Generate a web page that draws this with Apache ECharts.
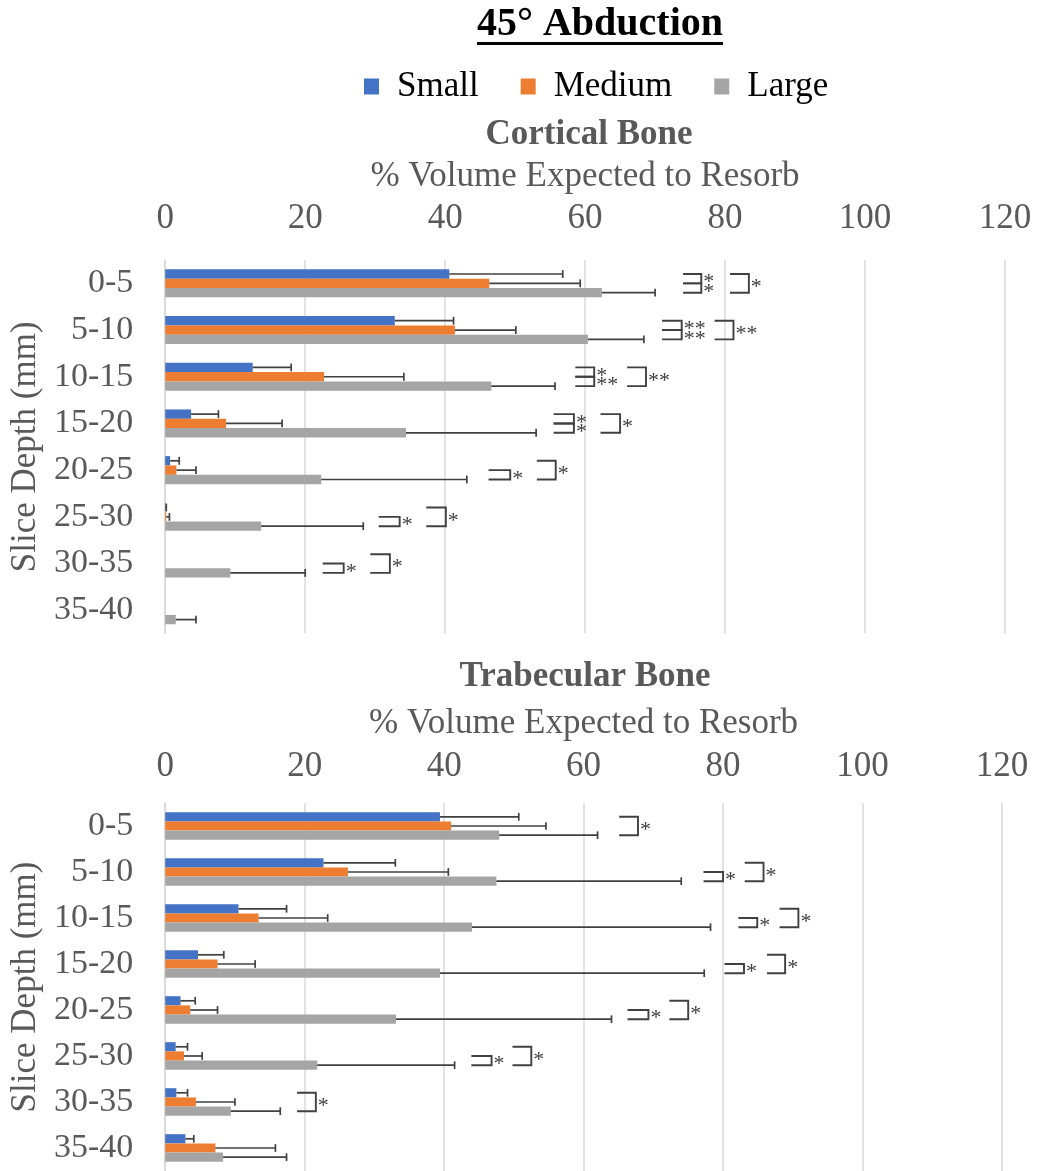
<!DOCTYPE html>
<html><head><meta charset="utf-8">
<script src="https://cdn.jsdelivr.net/npm/echarts@6/dist/echarts.min.js"></script>
<style>html,body{margin:0;padding:0;background:#fff}#c{width:1037px;height:1171px}</style>
</head><body><div id="c"></div><script>
const categories = ['0-5','5-10','10-15','15-20','20-25','25-30','30-35','35-40'];
const seriesNames = ['Small','Medium','Large'];
const xTicks = [0,20,40,60,80,100,120];

const corticalSmall  = [40.6, 32.8, 12.5, 3.7, 0.7, 0.05, 0, 0];
const corticalMedium = [46.3, 41.4, 22.7, 8.7, 1.6, 0.15, 0, 0];
const corticalLarge  = [62.4, 60.4, 46.6, 34.4, 22.3, 13.7, 9.3, 1.5];
const corticalSmallSD  = [16.2, 8.4, 5.5, 3.9, 1.3, 0.1, null, null];
const corticalMediumSD = [13.0, 8.7, 11.4, 8.0, 2.8, 0.45, null, null];
const corticalLargeSD  = [7.6, 8.0, 9.1, 18.6, 20.8, 14.6, 10.7, 2.9];

const trabecularSmall  = [39.4, 22.7, 10.5, 4.7, 2.2, 1.5, 1.6, 2.9];
const trabecularMedium = [41.0, 26.2, 13.4, 7.5, 3.6, 2.7, 4.4, 7.2];
const trabecularLarge  = [47.9, 47.5, 44.0, 39.4, 33.1, 21.8, 9.4, 8.3];
const trabecularSmallSD  = [11.3, 10.3, 6.9, 3.7, 2.1, 1.7, 1.6, 1.2];
const trabecularMediumSD = [13.6, 14.4, 9.9, 5.4, 3.9, 2.6, 5.6, 8.6];
const trabecularLargeSD  = [14.1, 26.5, 34.2, 37.9, 30.9, 19.7, 7.1, 9.1];

// significance brackets: [category index, value start, value end, from size, to size, label]
const corticalSig = [
  [0, 74.0, 76.6, 0, 1, '*'], [0, 74.0, 76.6, 1, 2, '*'], [0, 80.7, 83.4, 0, 2, '*'],
  [1, 71.0, 73.8, 0, 1, '**'], [1, 71.0, 73.8, 1, 2, '**'], [1, 78.5, 81.2, 0, 2, '**'],
  [2, 58.6, 61.3, 0, 1, '*'], [2, 58.6, 61.3, 1, 2, '**'], [2, 66.0, 68.7, 0, 2, '**'],
  [3, 55.5, 58.4, 0, 1, '*'], [3, 55.5, 58.4, 1, 2, '*'], [3, 62.2, 65.0, 0, 2, '*'],
  [4, 46.2, 49.3, 1, 2, '*'], [4, 53.1, 55.8, 0, 2, '*'],
  [5, 30.5, 33.5, 1, 2, '*'], [5, 37.3, 40.1, 0, 2, '*'],
  [6, 22.5, 25.5, 1, 2, '*'], [6, 29.3, 32.1, 0, 2, '*']
];
const trabecularSig = [
  [0, 65.1, 67.8, 0, 2, '*'],
  [1, 77.2, 80.0, 1, 2, '*'], [1, 83.1, 85.8, 0, 2, '*'],
  [2, 82.2, 84.9, 1, 2, '*'], [2, 88.1, 90.8, 0, 2, '*'],
  [3, 80.2, 83.0, 1, 2, '*'], [3, 86.3, 88.9, 0, 2, '*'],
  [4, 66.3, 69.3, 1, 2, '*'], [4, 72.3, 75.0, 0, 2, '*'],
  [5, 43.9, 46.8, 1, 2, '*'], [5, 49.8, 52.5, 0, 2, '*'],
  [6, 18.9, 21.6, 0, 2, '*']
];

const COLORS = ['#4472C4', '#ED7D31', '#A5A5A5'];
const FONT = '"Liberation Serif", "Times New Roman", serif';
const GAP = 0.4;
const INK = '#404040';

function barOffset(api, s) {
  const band = api.size([0, 1])[1];
  const bw = band * (1 - GAP) / 3;
  return { off: (s - 1) * bw, bw: bw };
}

function errorData(means, sds) {
  const out = [];
  for (let s = 0; s < 3; s++) {
    for (let i = 0; i < categories.length; i++) {
      if (sds[s][i] != null) out.push([i, means[s][i], means[s][i] + sds[s][i], s]);
    }
  }
  return out;
}

function errorRender(params, api) {
  const cat = api.value(0), mean = api.value(1), hi = api.value(2), s = api.value(3);
  const c0 = api.coord([mean, cat]);
  const c1 = api.coord([hi, cat]);
  const o = barOffset(api, s);
  const y = c0[1] + o.off;
  const h = o.bw * 0.42;
  const st = { stroke: INK, lineWidth: 1.7 };
  return { type: 'group', children: [
    { type: 'line', shape: { x1: c0[0], y1: y, x2: c1[0], y2: y }, style: st },
    { type: 'line', shape: { x1: c1[0], y1: y - h, x2: c1[0], y2: y + h }, style: st }
  ]};
}

function sigRender(list) {
  return function (params, api) {
    const d = list[params.dataIndex];
    const a = api.coord([d[1], d[0]]);
    const b = api.coord([d[2], d[0]]);
    const of1 = barOffset(api, d[3]), of2 = barOffset(api, d[4]);
    const y1 = a[1] + of1.off, y2 = a[1] + of2.off;
    return { type: 'group', children: [
      { type: 'polyline', shape: { points: [[a[0], y1], [b[0], y1], [b[0], y2], [a[0], y2]] },
        style: { stroke: INK, lineWidth: 1.9, fill: null } },
      { type: 'text', x: b[0] + 2, y: (y1 + y2) / 2 + 4,
        style: { text: d[5], fill: INK, font: '22px ' + FONT, align: 'left', verticalAlign: 'middle' } }
    ]};
  };
}

function barSeries(name, data, idx) {
  return { name: name, type: 'bar', xAxisIndex: idx, yAxisIndex: idx, data: data,
    barGap: '0%', barCategoryGap: (GAP * 100) + '%', itemStyle: { color: COLORS[seriesNames.indexOf(name)] },
    silent: true, animation: false };
}

function xAxisCfg(idx, margin, nameGap) {
  return { type: 'value', gridIndex: idx, position: 'top', min: xTicks[0], max: xTicks[xTicks.length - 1],
    interval: xTicks[1] - xTicks[0],
    name: '% Volume Expected to Resorb', nameLocation: 'middle', nameGap: nameGap,
    nameTextStyle: { fontSize: 35, color: '#595959', fontFamily: FONT },
    axisLine: { show: false }, axisTick: { show: false },
    axisLabel: { fontSize: 35, color: '#595959', fontFamily: FONT, margin: margin },
    splitLine: { show: true, lineStyle: { color: '#d9d9d9', width: 1.5 } } };
}
function yAxisCfg(idx) {
  return { type: 'category', gridIndex: idx, data: categories, inverse: true,
    name: 'Slice Depth (mm)', nameLocation: 'middle', nameGap: 111,
    nameTextStyle: { fontSize: 35, color: '#595959', fontFamily: FONT },
    axisLine: { show: true, lineStyle: { color: '#d9d9d9', width: 1.5 } }, axisTick: { show: false },
    axisLabel: { fontSize: 34, color: '#595959', fontFamily: FONT, margin: 32 } };
}

const chart = echarts.init(document.getElementById('c'), null, { renderer: 'canvas' });
chart.setOption({
  animation: false,
  backgroundColor: '#ffffff',
  textStyle: { fontFamily: FONT },
  legend: { data: seriesNames, left: 359, top: 64, itemWidth: 15, itemHeight: 16, itemGap: 42, icon: 'rect',
    selectedMode: false,
    textStyle: { fontSize: 35, color: '#000', fontFamily: FONT, padding: [0, 0, 0, 13] } },
  graphic: [
    { type: 'text', x: 600, y: 25, style: { text: '45° Abduction', font: 'bold 40px ' + FONT, fill: '#000', align: 'center', verticalAlign: 'middle' } },
    { type: 'rect', shape: { x: 477, y: 42, width: 246, height: 3 }, style: { fill: '#000' } },
    { type: 'text', x: 589, y: 135, style: { text: 'Cortical Bone', font: 'bold 35px ' + FONT, fill: '#595959', align: 'center', verticalAlign: 'middle' } },
    { type: 'text', x: 585, y: 677, style: { text: 'Trabecular Bone', font: 'bold 35px ' + FONT, fill: '#595959', align: 'center', verticalAlign: 'middle' } }
  ],
  grid: [
    { left: 165, top: 260, width: 840, height: 373.6 },
    { left: 162, top: 803, width: 840, height: 373 }
  ],
  xAxis: [xAxisCfg(0, 24, 66), xAxisCfg(1, 19, 62)],
  yAxis: [yAxisCfg(0), yAxisCfg(1)],
  series: [
    barSeries('Small', corticalSmall, 0),
    barSeries('Medium', corticalMedium, 0),
    barSeries('Large', corticalLarge, 0),
    barSeries('Small', trabecularSmall, 1),
    barSeries('Medium', trabecularMedium, 1),
    barSeries('Large', trabecularLarge, 1),
    { type: 'custom', xAxisIndex: 0, yAxisIndex: 0, renderItem: errorRender, z: 5, silent: true,
      encode: { x: [1, 2], y: 0 },
      data: errorData([corticalSmall, corticalMedium, corticalLarge], [corticalSmallSD, corticalMediumSD, corticalLargeSD]) },
    { type: 'custom', xAxisIndex: 1, yAxisIndex: 1, renderItem: errorRender, z: 5, silent: true,
      encode: { x: [1, 2], y: 0 },
      data: errorData([trabecularSmall, trabecularMedium, trabecularLarge], [trabecularSmallSD, trabecularMediumSD, trabecularLargeSD]) },
    { type: 'custom', xAxisIndex: 0, yAxisIndex: 0, renderItem: sigRender(corticalSig), z: 5, silent: true,
      encode: { x: [1, 2], y: 0 }, data: corticalSig.map(d => d.slice(0, 5)) },
    { type: 'custom', xAxisIndex: 1, yAxisIndex: 1, renderItem: sigRender(trabecularSig), z: 5, silent: true,
      encode: { x: [1, 2], y: 0 }, data: trabecularSig.map(d => d.slice(0, 5)) }
  ]
});
</script></body></html>
